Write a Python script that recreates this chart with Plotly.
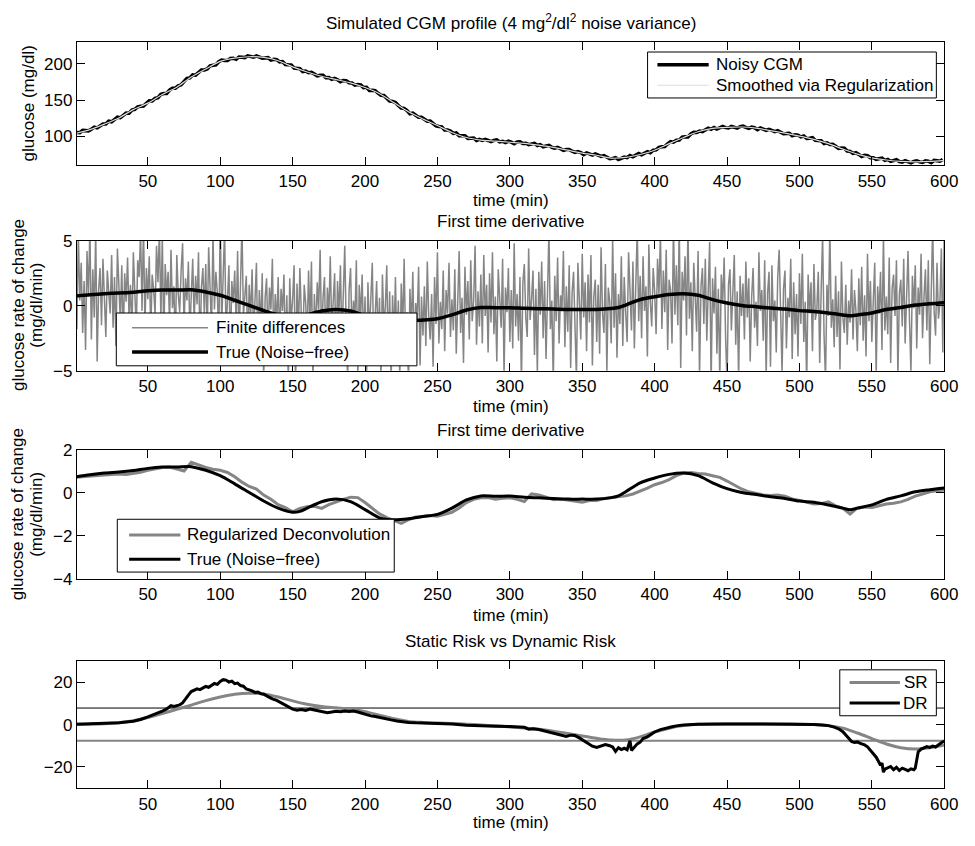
import plotly.graph_objects as go

W, H = 975, 846
FONT = "Liberation Sans, Arial, Helvetica, sans-serif"
FS = 17
GRAY = "#858585"
LIGHT = "#dcdcd4"

# ---------------- data ----------------
x_ticks = [50, 100, 150, 200, 250, 300, 350, 400, 450, 500, 550, 600]

# CGM profile smoothed via regularization (every 10 min)
time_smooth = list(range(0, 601, 10))
cgm_smoothed = [104, 109.4, 117, 125.5, 137, 146, 158, 168, 182, 193,
                203.5, 208, 210, 209, 204.5, 196, 189, 183, 178.5, 174,
                167.5, 159, 146.5, 134, 124, 115, 105.5, 98.5, 95, 93.5,
                92, 90.5, 88, 85, 81, 77, 74, 70, 71, 75,
                81, 90, 98.5, 106.5, 111, 112.5, 113, 111.5, 108, 104.5,
                100.5, 96, 90, 82.5, 75.5, 70.5, 67.5, 65.5, 65, 65.5,
                67]

# noisy CGM readings (every 2 min, starting at t = 1)
time_cgm = list(range(1, 600, 2))
cgm_noisy = [
    105.3, 105.2, 108.3, 108.1, 107.7, 110.0, 112.8, 111.7, 115.2, 117.1,
    117.2, 121.0, 120.2, 123.1, 126.5, 125.8, 128.6, 132.3, 132.0, 136.5,
    137.4, 140.9, 141.6, 142.0, 145.8, 149.1, 149.0, 152.4, 153.4, 158.1,
    159.2, 159.3, 163.9, 166.5, 166.6, 169.8, 171.3, 176.3, 180.1, 180.7,
    185.0, 184.6, 188.5, 191.7, 191.7, 193.1, 197.4, 198.3, 198.9, 203.1,
    205.4, 204.7, 204.7, 207.6, 208.0, 206.4, 209.7, 209.3, 208.8, 211.3,
    210.7, 209.3, 211.1, 209.6, 207.9, 208.3, 208.7, 205.3, 206.4, 205.9,
    202.9, 203.4, 199.2, 198.8, 198.7, 194.4, 193.6, 193.5, 189.5, 190.3,
    187.9, 188.4, 186.1, 183.5, 184.3, 184.4, 181.0, 181.2, 178.8, 180.2,
    178.2, 175.5, 177.2, 176.9, 174.1, 173.7, 170.8, 171.6, 171.1, 167.4,
    167.7, 163.5, 163.8, 163.3, 159.6, 156.9, 156.5, 152.8, 148.8, 148.4,
    146.7, 142.6, 139.2, 138.7, 135.7, 131.2, 132.1, 129.3, 126.4, 126.5,
    123.9, 120.9, 121.1, 118.0, 114.7, 113.8, 113.3, 108.8, 108.9, 107.4,
    104.1, 104.8, 100.9, 100.8, 101.0, 97.3, 97.2, 97.8, 94.5, 96.0,
    94.4, 95.8, 94.4, 92.7, 94.4, 95.3, 92.5, 93.2, 91.5, 93.5,
    92.1, 89.9, 92.2, 92.5, 90.3, 90.6, 88.6, 90.1, 90.4, 87.5,
    88.7, 85.7, 87.0, 87.6, 85.0, 83.7, 85.0, 83.0, 80.7, 82.0,
    82.0, 79.6, 77.9, 79.1, 77.8, 74.9, 77.2, 75.8, 74.3, 75.8,
    74.4, 72.4, 73.6, 71.5, 69.2, 69.7, 70.8, 68.1, 70.4, 71.5,
    70.7, 73.6, 71.9, 74.0, 76.4, 74.7, 76.5, 79.0, 77.6, 81.0,
    81.4, 84.9, 85.6, 86.0, 89.8, 92.8, 92.0, 94.7, 94.9, 99.0,
    99.5, 99.2, 103.4, 105.6, 105.3, 107.3, 106.7, 109.6, 111.3, 109.8,
    112.2, 110.1, 112.3, 113.8, 112.1, 111.7, 113.9, 112.8, 111.4, 113.6,
    114.3, 112.4, 111.2, 112.9, 112.0, 109.4, 111.6, 110.1, 108.5, 109.9,
    108.5, 106.6, 107.9, 105.9, 103.7, 103.9, 104.4, 101.0, 102.2, 101.8,
    99.3, 100.6, 97.2, 97.6, 98.3, 94.5, 93.9, 94.0, 90.2, 91.2,
    88.8, 89.0, 86.4, 83.5, 84.0, 83.7, 79.8, 79.4, 76.6, 77.5,
    75.2, 72.3, 73.9, 73.5, 70.6, 70.5, 68.4, 69.8, 70.0, 67.0,
    68.3, 65.5, 67.0, 67.8, 65.4, 64.6, 66.6, 65.2, 63.6, 65.6,
    66.4, 64.9, 64.1, 66.3, 65.9, 63.8, 67.0, 66.5, 65.9, 68.3,
]

# finite differences of the noisy CGM (mg/dl/min, one per minute)
time_fd = list(range(1, 601))
finite_diff = [
    -1.8, 5.6, 0.4, 3.3, -2.1, 1.9, -3.4, 4.2, 0.7, 6.1, -2.6, 2.8, -0.9, 5.8, -4.3, 1.2, 2.9, -1.5, 3.6, 0.2,
    -2.4, 2.7, 1.1, -0.6, 3.9, -1.7, 2.2, -3.1, 4.4, 0.9, -1.2, 3.1, -2.8, 2.5, 0.3, 3.7, -0.8, 1.6, -2.3, 4.1,
    0.6, -1.9, 3.5, 2.2, 5.7, -0.4, 6.3, -1.6, 2.9, 0.5, 3.8, -2.2, 2.4, 1.3, -0.7, 4.6, 1.8, 5.9, -1.1, 5.4,
    -2.6, 3.2, 0.8, 2.6, -1.4, 4.3, -0.2, 1.5, -3.3, 3.9, 0.9, -0.5, 2.7, 4.8, -1.8, 2.1, 0.4, 3.4, -2.0, 1.7,
    3.6, -1.3, 2.3, 0.1, 4.1, -3.5, 1.4, 2.9, -0.6, 3.2, -2.4, 4.5, 0.7, -1.9, 5.6, -0.3, 2.6, 1.0, -2.7, 6.8,
    -1.5, 2.4, 5.9, -2.2, 0.6, 3.1, -3.8, 1.9, 0.2, 2.7, -1.6, 4.2, -2.9, 1.1, 6.2, -0.8, 0.5, 2.3, -3.4, 1.6,
    -0.9, 2.8, -2.5, 0.4, 3.3, -4.1, 1.2, -1.7, 2.5, -5.8, 0.6, 2.1, -2.8, 1.4, -0.3, 3.6, -3.2, 0.9, -1.5, 2.2,
    -2.6, 1.3, -0.4, 2.4, -3.7, 0.8, -5.9, 2.1, -1.2, 0.5, 3.1, -6.4, 1.7, -2.1, 2.9, -0.7, -3.3, 1.6, 0.2, -2.4,
    2.7, -1.5, 3.4, -6.1, 0.9, -2.2, 1.8, -0.3, 4.3, -2.7, 0.6, 2.2, -3.9, 1.4, -0.8, 3.8, -1.9, 0.3, 2.5, -4.4,
    1.9, -0.6, 3.1, -2.8, 0.8, 4.6, -1.7, -5.8, 1.2, 2.9, -2.3, 0.4, -1.1, 3.5, -5.5, 1.6, -0.9, 2.4, -3.1, 0.7,
    -6.3, 1.8, -2.2, 0.5, 3.3, -3.6, -0.4, 1.9, -2.7, 0.6, -5.7, 2.4, -1.3, -0.2, 3.1, -4.2, 1.1, -6.0, 0.8, -2.5,
    2.2, -3.4, 0.4, -5.6, 1.7, -1.9, 3.6, -2.8, -0.5, -6.2, 1.3, -1.6, 2.6, -3.9, 0.2, -1.1, 3.0, -4.6, 0.7, -2.3,
    1.5, -3.1, 3.4, -0.8, -2.6, 0.9, -4.7, 2.2, -1.4, 4.1, -2.9, 0.3, -1.8, 2.7, -3.5, 1.2, -0.6, 3.3, -2.4, 0.5,
    -1.9, 2.8, -3.7, 1.4, 4.2, -2.1, 0.6, -4.4, 3.0, -0.7, 1.9, -2.6, 3.5, -1.2, 0.4, 4.6, -3.0, 1.1, -1.6, 2.4,
    -2.9, 3.9, -0.8, 1.6, -3.6, 2.5, -1.3, 4.1, -2.2, 0.7, -4.3, 2.8, 0.2, -1.7, 3.6, -5.4, 1.4, -0.5, 2.9, -2.8,
    1.2, -3.3, 4.8, -1.6, 0.9, -2.7, 2.2, -6.1, 1.8, 3.2, -0.9, -2.4, 4.4, -1.1, 0.5, 2.7, -3.8, 1.3, -5.3, 2.6,
    -0.7, 3.4, -2.5, 1.9, -4.1, 0.6, 5.8, -1.8, 0.4, -6.0, 2.3, -1.2, 3.7, -2.9, 0.8, -0.3, 4.2, -3.2, 1.5, -2.0,
    3.1, -4.8, 1.0, 2.6, -1.5, -5.7, 3.3, 0.2, -2.6, 4.0, -0.9, 1.8, -3.5, 2.4, -1.3, 3.9, -4.6, 0.7, 2.0, -2.8,
    1.6, -3.7, 4.5, -0.6, -2.1, 3.2, -5.1, 1.4, 0.3, -2.9, 5.2, -1.7, 2.5, -4.0, 0.9, -1.4, 3.8, -3.1, 2.2, -0.5,
    -2.8, 4.1, 0.6, -1.9, 3.4, -3.3, 1.7, 5.9, -1.2, 2.3, -2.5, 3.8, -0.4, 1.5, -3.9, 4.7, 0.3, -1.6, 2.9, 1.1,
    -2.2, 3.6, 0.9, 5.6, -1.8, 2.7, -0.5, 4.3, -3.4, 2.0, 1.2, -2.9, 6.3, -0.7, 3.1, -1.5, 6.4, -4.8, 2.6, 0.4,
    3.8, -2.3, 6.1, -1.0, 1.8, -3.5, 3.3, 0.6, -2.0, 4.2, -5.6, 1.5, 2.9, -1.4, 3.6, -2.7, 0.8, 4.9, -6.2, 2.1,
    -0.6, 3.0, -3.7, 1.3, -5.9, 2.4, 0.2, 3.7, -2.4, -6.0, 1.6, 2.8, -1.9, 0.5, 3.9, -3.0, 1.1, -5.8, 2.3, -0.8,
    1.7, -2.6, 3.4, -0.9, 2.1, -4.3, 0.7, 2.9, -1.7, 0.3, -3.1, 4.1, -0.4, 1.2, -2.7, 3.5, -5.6, 1.0, 2.6, -4.7,
    3.1, -1.2, 0.4, -3.6, 2.2, 4.3, -2.0, -5.2, 1.3, 2.7, -3.3, 0.6, -0.9, 3.6, -4.1, 1.8, -2.2, 0.9, -3.9, 2.5,
    -1.4, 4.0, -2.8, 0.3, -6.1, 2.4, -0.6, 1.8, -3.5, 3.2, -1.1, -0.3, 2.6, -4.4, 1.2, 5.4, -2.3, -5.7, 1.6, -0.8,
    6.0, -1.7, 0.5, -3.2, 2.3, -2.4, 1.1, -4.9, 3.4, -0.9, -2.1, 1.6, -3.0, 0.4, -1.3, 2.8, -2.6, 1.2, -0.4, -3.5,
    2.1, -1.5, 3.0, -2.7, 0.8, -3.9, 4.0, -1.2, 1.9, -2.8, 0.4, 3.3, -5.3, 1.5, -0.6, 2.6, -3.4, 5.5, -1.9, 0.7,
    -2.2, 3.7, -4.4, 1.3, 2.4, -0.8, 3.5, -5.6, 0.9, 2.0, -1.6, 3.6, -2.9, 0.5, 4.2, -1.1, -5.1, 2.3, -0.2, 3.1,
    -3.3, 1.4, -0.7, 4.0, -2.5, 0.6, 2.8, -1.9, 3.5, -4.5, 1.8, 6.2, -0.4, -2.3, 3.3, -1.0, 0.2, 4.4, -3.6, 5.8,
]

# true (noise-free) first derivative
time_true = [0, 10, 20, 30, 40, 50, 60, 70, 80, 90, 100, 110, 120, 130, 140, 150, 155,
             160, 170, 180, 190, 200, 210, 220, 230, 240, 250, 260, 270, 280, 290, 300,
             310, 320, 330, 340, 350, 360, 370, 375, 380, 390, 400, 410, 420, 430, 440,
             450, 460, 470, 480, 490, 500, 510, 520, 530, 535, 540, 550, 560, 570, 580,
             590, 600]
deriv_true = [0.74, 0.84, 0.92, 0.97, 1.04, 1.14, 1.20, 1.20, 1.22, 1.05, 0.80, 0.42, 0.02,
              -0.38, -0.71, -0.90, -0.86, -0.71, -0.41, -0.29, -0.41, -0.78, -1.16, -1.25,
              -1.20, -1.10, -1.00, -0.71, -0.33, -0.14, -0.16, -0.15, -0.20, -0.23, -0.26,
              -0.29, -0.29, -0.29, -0.22, -0.14, 0.05, 0.47, 0.69, 0.86, 0.92, 0.80, 0.47,
              0.20, 0.02, -0.08, -0.18, -0.26, -0.38, -0.44, -0.56, -0.71, -0.78, -0.71,
              -0.56, -0.30, -0.14, 0.05, 0.15, 0.23]

# derivative estimated by regularized deconvolution (every 5 min)
time_reg = list(range(0, 601, 5))
deriv_reg = [
    0.72, 0.74, 0.78, 0.80, 0.83, 0.86, 0.88, 0.86, 0.90, 0.96,
    1.05, 1.12, 1.18, 1.20, 1.12, 1.02, 1.42, 1.30, 1.18, 1.10,
    1.05, 0.95, 0.75, 0.50, 0.30, 0.18, -0.10, -0.30, -0.55, -0.68,
    -0.88, -0.72, -0.64, -0.62, -0.72, -0.55, -0.42, -0.30, -0.20, -0.22,
    -0.45, -0.70, -0.98, -1.15, -1.30, -1.42, -1.25, -1.12, -1.10, -1.05,
    -1.08, -1.00, -0.90, -0.70, -0.45, -0.30, -0.23, -0.22, -0.29, -0.25,
    -0.23, -0.30, -0.40, -0.05, -0.10, -0.20, -0.32, -0.28, -0.33, -0.38,
    -0.44, -0.36, -0.35, -0.26, -0.22, -0.20, -0.14, -0.05, 0.08, 0.22,
    0.38, 0.48, 0.62, 0.80, 0.92, 0.95, 0.90, 0.88, 0.80, 0.72,
    0.55, 0.38, 0.18, 0.05, -0.04, -0.10, -0.12, -0.10, -0.15, -0.28,
    -0.35, -0.45, -0.52, -0.50, -0.42, -0.60, -0.72, -0.98, -0.70, -0.66,
    -0.68, -0.60, -0.52, -0.48, -0.42, -0.30, -0.15, -0.05, 0.05, 0.10,
    0.13,
]

# static risk (every 10 min)
time_sr = list(range(0, 601, 10))
static_risk = [0.1, 0.2, 0.4, 0.9, 1.8, 3.3, 5.2, 7.2, 9.2, 11.3,
               13.0, 14.3, 14.8, 14.4, 13.0, 11.2, 9.6, 8.5, 7.9, 7.3,
               6.1, 4.4, 2.7, 1.5, 1.0, 0.7, 0.5, 0.2, -0.2, -0.6,
               -1.1, -1.6, -2.2, -3.1, -4.2, -5.4, -6.5, -7.3, -7.3, -5.8,
               -3.5, -1.7, -0.5, 0.1, 0.3, 0.3, 0.3, 0.3, 0.3, 0.3,
               0.2, 0.0, -0.5, -1.7, -4.0, -6.6, -9.2, -10.9, -11.5, -10.9,
               -9.7]

# dynamic risk
time_dr = [1, 10, 20, 30, 40, 45, 50, 55, 60, 63, 66, 68, 70, 72, 74, 76, 78, 80, 82, 84,
           86, 88, 90, 92, 94, 96, 98, 100, 102, 104, 106, 108, 110, 112, 114, 116, 118,
           120, 122, 124, 126, 128, 130, 133, 136, 139, 142, 145, 148, 150, 153, 156, 159,
           162, 165, 168, 171, 174, 177, 180, 183, 186, 189, 192, 195, 198, 201, 204, 207,
           210, 214, 218, 222, 226, 230, 235, 240, 250, 260, 270, 280, 290, 300, 305, 310,
           313, 316, 320, 324, 328, 332, 336, 339, 342, 345, 348, 351, 354, 357, 360, 363,
           366, 369, 371, 373, 375, 377, 379, 381, 383, 384, 386, 388, 390, 392, 395, 398,
           400, 404, 408, 412, 416, 420, 430, 440, 450, 460, 470, 480, 490, 500, 510, 515,
           520, 524, 527, 530, 533, 536, 538, 540, 542, 545, 547, 549, 551, 553, 555, 556,
           557, 558, 559, 561, 563, 565, 567, 569, 571, 573, 575, 577, 579, 580, 581, 582,
           584, 586, 588, 590, 592, 594, 596, 598, 600]
dynamic_risk = [0.1, 0.3, 0.5, 0.9, 1.6, 2.4, 3.6, 4.9, 6.3, 7.4, 8.9, 8.6, 9.0, 9.3, 10.2,
                11.8, 13.9, 15.6, 16.4, 16.9, 16.5, 17.4, 18.0, 17.6, 18.7, 19.4, 19.0, 20.4,
                21.2, 21.0, 20.1, 20.5, 19.3, 19.6, 18.4, 18.1, 16.8, 16.4, 15.9, 15.2, 15.4,
                14.6, 14.3, 13.2, 12.1, 11.4, 10.2, 9.1, 7.9, 7.3, 6.8, 7.1, 6.7, 7.3, 6.9,
                6.4, 6.0, 5.6, 5.9, 6.3, 6.1, 6.4, 6.2, 6.4, 5.9, 5.2, 4.7, 4.1, 3.8, 3.3,
                2.6, 2.2, 1.7, 1.3, 1.0, 0.8, 0.7, 0.5, 0.3, -0.3, -0.7, -0.8, -0.9, -1.0,
                -1.3, -2.2, -2.0, -2.3, -3.0, -3.4, -4.4, -4.8, -5.6, -5.0, -5.2, -6.3, -7.6,
                -9.1, -10.2, -10.8, -10.1, -9.4, -10.0, -10.6, -12.7, -10.9, -11.8, -11.2,
                -11.9, -7.6, -12.2, -10.4, -9.1, -8.3, -6.6, -5.8, -4.3, -3.5, -2.4, -1.6,
                -1.0, -0.5, -0.2, 0.1, 0.3, 0.3, 0.3, 0.3, 0.3, 0.3, 0.2, 0.0, -0.2, -0.5,
                -1.2, -2.0, -3.4, -5.8, -8.0, -8.5, -8.2, -8.9, -9.6, -10.5, -12.1, -13.9,
                -15.4, -17.9, -19.3, -18.2, -22.5, -21.0, -20.4, -19.8, -21.3, -20.2, -21.7,
                -20.6, -21.2, -21.8, -20.9, -21.3, -20.5, -16.5, -12.9, -11.6, -11.1, -10.4,
                -10.8, -10.2, -10.6, -9.4, -8.6, -7.8]

# risk thresholds drawn as horizontal reference lines
risk_upper = 7.8
risk_lower = -7.7

assert len(cgm_noisy) == len(time_cgm)
assert len(finite_diff) == len(time_fd)
assert len(deriv_true) == len(time_true)
assert len(deriv_reg) == len(time_reg)
assert len(static_risk) == len(time_sr)
assert len(dynamic_risk) == len(time_dr)
assert len(cgm_smoothed) == len(time_smooth)

# ---------------- layout helpers (pixel -> paper) ----------------
def px(x):
    return x / W


def py(y):
    return 1 - y / H


X_LEFT, X_RIGHT = 78, 958
panels = [  # (top, bottom) in pixels
    (34, 160),
    (237, 370),
    (451, 583),
    (667, 797),
]

fig = go.Figure()


def add(trace, k):
    trace.xaxis = "x" if k == 1 else f"x{k}"
    trace.yaxis = "y" if k == 1 else f"y{k}"
    fig.add_trace(trace)


# panel 1
add(go.Scatter(x=time_cgm, y=cgm_noisy, mode="lines", name="Noisy CGM",
               line=dict(color="black", width=3.5)), 1)
add(go.Scatter(x=time_smooth, y=cgm_smoothed, mode="lines", name="Smoothed via Regularization",
               line=dict(color=LIGHT, width=1.2, shape="spline", smoothing=0.8)), 1)
# panel 2
add(go.Scatter(x=time_fd, y=finite_diff, mode="lines", name="Finite differences",
               line=dict(color=GRAY, width=1.5)), 2)
add(go.Scatter(x=time_true, y=deriv_true, mode="lines", name="True (Noise−free)",
               line=dict(color="black", width=3.5, shape="spline", smoothing=0.8)), 2)
# panel 3
add(go.Scatter(x=time_reg, y=deriv_reg, mode="lines", name="Regularized Deconvolution",
               line=dict(color=GRAY, width=3)), 3)
add(go.Scatter(x=time_true, y=deriv_true, mode="lines", name="True (Noise−free)",
               line=dict(color="black", width=3, shape="spline", smoothing=0.8)), 3)
# panel 4
add(go.Scatter(x=time_sr, y=static_risk, mode="lines", name="SR",
               line=dict(color=GRAY, width=3, shape="spline", smoothing=0.8)), 4)
add(go.Scatter(x=time_dr, y=dynamic_risk, mode="lines", name="DR",
               line=dict(color="black", width=3)), 4)

tickfont = dict(family=FONT, size=FS, color="black")
axis_common = dict(showline=True, linecolor="black", linewidth=1, mirror="ticks",
                   ticks="inside", ticklen=8, tickwidth=1, tickcolor="black",
                   showgrid=False, zeroline=False, tickfont=tickfont)

y_ranges = [[60, 230], [-5, 5], [-4, 2], [-30, 30]]
y_ticks = [[100, 150, 200], [-5, 0, 5], [-4, -2, 0, 2], [-20, 0, 20]]

layout = dict(width=W, height=H, margin=dict(l=0, r=0, t=0, b=0),
              paper_bgcolor="white", plot_bgcolor="white", showlegend=False,
              font=dict(family=FONT, size=FS, color="black"))
for k, (top, bottom) in enumerate(panels, start=1):
    xs = "xaxis" if k == 1 else f"xaxis{k}"
    ys = "yaxis" if k == 1 else f"yaxis{k}"
    layout[xs] = dict(axis_common, domain=[px(X_LEFT), px(X_RIGHT)], range=[1, 600],
                      tickmode="array", tickvals=x_ticks,
                      anchor="y" if k == 1 else f"y{k}")
    layout[ys] = dict(axis_common, domain=[py(bottom), py(top)], range=y_ranges[k - 1],
                      tickmode="array", tickvals=y_ticks[k - 1],
                      anchor="x" if k == 1 else f"x{k}")
fig.update_layout(**layout)

annotations = []
shapes = []


def text(x, y, s, xanchor="center", angle=0):
    annotations.append(dict(x=px(x), y=py(y), xref="paper", yref="paper", text=s,
                            showarrow=False, xanchor=xanchor, yanchor="middle",
                            textangle=angle, font=dict(family=FONT, size=FS, color="black")))


# titles and axis labels
mid_x = (X_LEFT + X_RIGHT) / 2
text(mid_x, 13, "Simulated CGM profile (4 mg<sup>2</sup>/dl<sup>2</sup> noise variance)")
text(mid_x, 217, "First time derivative")
text(mid_x, 431, "First time derivative")
text(mid_x, 647, "Static Risk vs Dynamic Risk")
for yy in (196, 407, 620, 832):
    text(mid_x, yy, "time (min)")
text(29, 97, "glucose (mg/dl)", angle=-90)
for cy in (303, 517):
    text(18, cy, "glucose rate of change", angle=-90)
    text(37, cy, "(mg/dl/min)", angle=-90)

# risk thresholds
shapes.append(dict(type="line", xref="x4 domain", yref="y4", x0=0, x1=1,
                   y0=risk_upper, y1=risk_upper, line=dict(color="black", width=1), layer="below"))
shapes.append(dict(type="line", xref="x4 domain", yref="y4", x0=0, x1=1,
                   y0=risk_lower, y1=risk_lower, line=dict(color=GRAY, width=2), layer="below"))


def legend_box(x0, y0, x1, y1, entries, lx0, lx1, tx, align="left"):
    shapes.append(dict(type="rect", xref="paper", yref="paper", x0=px(x0), x1=px(x1),
                       y0=py(y1), y1=py(y0), fillcolor="white",
                       line=dict(color="black", width=1), layer="above"))
    for label, ly, color, width in entries:
        shapes.append(dict(type="line", xref="paper", yref="paper", x0=px(lx0), x1=px(lx1),
                           y0=py(ly), y1=py(ly), line=dict(color=color, width=width),
                           layer="above"))
        text(tx, ly, label, xanchor=align)


legend_box(657, 44, 950, 91,
           [("Noisy CGM", 57, "black", 3.5),
            ("Smoothed via Regularization", 78, LIGHT, 1.2)], 667, 719, 724)
legend_box(118, 311, 423, 365,
           [("Finite differences", 326, GRAY, 1.5),
            ("True (Noise−free)", 351, "black", 3.5)], 134, 211, 217)
legend_box(119, 522, 400, 576,
           [("Regularized Deconvolution", 538, GRAY, 3),
            ("True (Noise−free)", 563, "black", 3)], 131, 183, 188)
legend_box(852, 676, 950, 723,
           [("SR", 689, GRAY, 3),
            ("DR", 710, "black", 3)], 862, 913, 944, align="right")

fig.update_layout(annotations=annotations, shapes=shapes)
fig.write_html("out.html")
